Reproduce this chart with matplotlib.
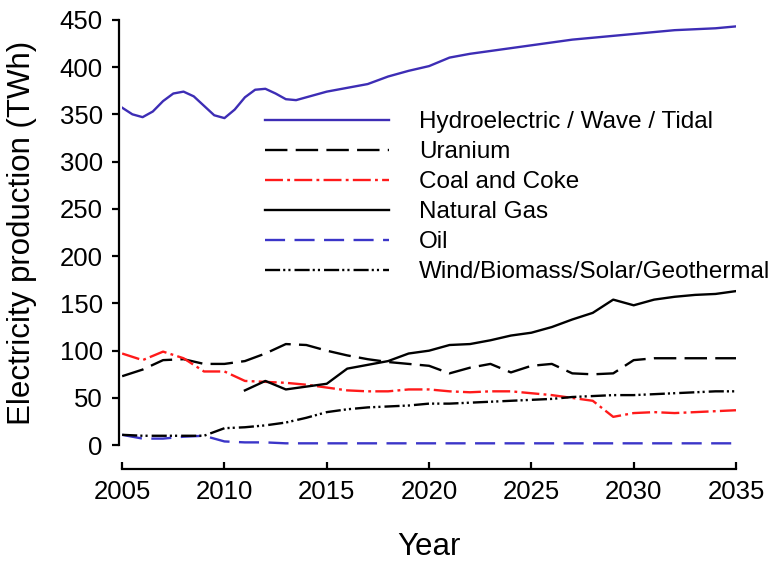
import matplotlib
matplotlib.use('Agg')
import matplotlib.pyplot as plt
import numpy as np

plt.rcParams['font.family'] = ['Liberation Sans', 'DejaVu Sans']

# Годы прогноза и значения (TWh)
years = list(range(2005, 2036))

# у гидро в начале волны, поэтому до 2015 шаг полгода
hydro_years = [2005, 2005.5, 2006, 2006.5, 2007, 2007.5, 2008, 2008.5, 2009, 2009.5,
               2010, 2010.5, 2011, 2011.5, 2012, 2012.5, 2013, 2013.5, 2014, 2014.5] + list(range(2015, 2036))
hydro = [357, 350, 347, 353, 364, 372, 374, 369, 359, 349,
         346, 355, 368, 376, 377, 372, 366, 365, 368, 371,
         374, 378, 382, 390, 396, 401, 410, 414, 417, 420, 423,
         426, 429, 431, 433, 435, 437, 439, 440, 441, 443]
uranium = [73, 80, 90, 91, 86, 86, 89, 97, 107, 106, 100, 95, 91, 88, 86, 84,
           76, 82, 86, 77, 84, 86, 76, 75, 76, 90, 92, 92, 92, 92, 92]
coal = [97, 90, 99, 92, 78, 78, 68, 67, 66, 64, 61, 58, 57, 57, 59, 59,
        57, 56, 57, 57, 55, 53, 50, 47, 30, 34, 35, 34, 35, 36, 37]
gas = [None, None, None, None, None, None, 58, 68, 59, 62, 65, 81, 85, 89, 97, 100,
       106, 107, 111, 116, 119, 125, 133, 140, 154, 148, 154, 157, 159, 160, 163]
oil = [11, 7, 7, 9, 10, 4, 3, 3, 2, 2, 2, 2, 2, 2, 2, 2,
       2, 2, 2, 2, 2, 2, 2, 2, 2, 2, 2, 2, 2, 2, 2]
renew = [11, 10, 10, 10, 10, 18, 19, 21, 24, 29, 35, 38, 40, 41, 42, 44,
         44, 45, 46, 47, 48, 49, 51, 52, 53, 53, 54, 55, 56, 57, 57]

labels = ['Hydroelectric / Wave / Tidal', 'Uranium', 'Coal and Coke',
          'Natural Gas', 'Oil', 'Wind/Biomass/Solar/Geothermal']
x_ticks = [2005, 2010, 2015, 2020, 2025, 2030, 2035]
y_ticks = [0, 50, 100, 150, 200, 250, 300, 350, 400, 450]


def main():
    fig = plt.figure(figsize=(7.78, 5.65), dpi=100)
    ax = fig.add_axes([0.157, 0.212, 0.789, 0.753])

    lw = 1.7
    gas_arr = np.array([np.nan if v is None else v for v in gas], dtype=float)

    ax.plot(hydro_years, hydro, color='#3d2db5', lw=lw, label=labels[0])
    ax.plot(years, uranium, color='black', lw=lw, dashes=(9.5, 3.5), label=labels[1])
    ax.plot(years, coal, color='#ff1a1a', lw=lw, dashes=(7.6, 1.8, 1.2, 1.8), label=labels[2])
    ax.plot(years, gas_arr, color='black', lw=lw, label=labels[3])
    ax.plot(years, oil, color='#3b35c8', lw=lw, dashes=(8.5, 4), label=labels[4])
    ax.plot(years, renew, color='black', lw=lw, dashes=(6.4, 1.3, 0.9, 1.3, 0.9, 1.7), label=labels[5])

    ax.set_xlim(2005, 2035)
    ax.set_ylim(0, 450)
    ax.set_xticks(x_ticks)
    ax.set_yticks(y_ticks)

    for side in ('top', 'right'):
        ax.spines[side].set_visible(False)
    ax.spines['bottom'].set_position(('outward', 17))
    ax.spines['left'].set_position(('outward', 2))
    ax.spines['left'].set_linewidth(1.6)
    ax.spines['bottom'].set_linewidth(1.6)

    ax.tick_params(axis='x', direction='in', length=5, width=1.6, pad=8, labelsize=18.5)
    ax.tick_params(axis='y', direction='out', length=5, width=1.6, pad=7, labelsize=18.5)

    ax.set_xlabel('Year', fontsize=22.5, labelpad=20)
    ax.set_ylabel('Electricity production (TWh)', fontsize=22.5, labelpad=16)

    ax.legend(loc='upper left', bbox_to_anchor=(265 / 778, 1 - 111 / 565),
              bbox_transform=fig.transFigure, frameon=False, fontsize=17.5,
              handlelength=5.1, handletextpad=1.23, labelspacing=0.33,
              borderpad=0, borderaxespad=0)

    fig.savefig('out.png', dpi=100)


if __name__ == '__main__':
    main()
